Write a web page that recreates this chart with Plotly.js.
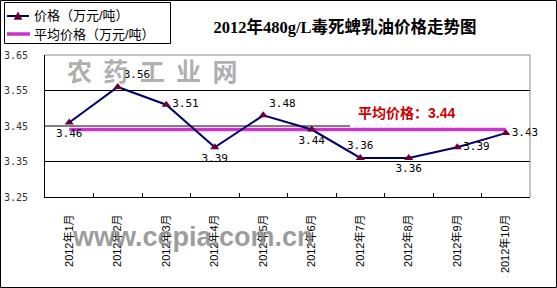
<!DOCTYPE html>
<html><head><meta charset="utf-8">
<script src="https://cdn.plot.ly/plotly-3.0.1.min.js"></script>
<style>html,body{margin:0;padding:0;background:#fff}#chart{width:557px;height:288px}</style>
</head><body><div id="chart"></div>
<script>
const months = ["2012年1月","2012年2月","2012年3月","2012年4月","2012年5月","2012年6月","2012年7月","2012年8月","2012年9月","2012年10月"];
const prices = [3.46, 3.56, 3.51, 3.39, 3.48, 3.44, 3.36, 3.36, 3.39, 3.43];
const avgPrices = [3.44, 3.44, 3.44, 3.44, 3.44, 3.44, 3.44, 3.44, 3.44, 3.44];
const labelPositions = ["bottom center","top right","middle right","bottom center","top right","bottom center","top center","bottom center","middle right","middle right"];
const seriesNames = ["价格（万元/吨）", "平均价格（万元/吨）"];
const avgLabel = "平均价格：3.44";
const titleText = "2012年480g/L毒死蜱乳油价格走势图";
const yTicks = [3.25, 3.35, 3.45, 3.55, 3.65];
const gridValues = [3.35, 3.45, 3.55];

const W = 557, H = 288, ML = 45, MR = 27, MT = 55, MB = 91;
const PW = W - ML - MR, PH = H - MT - MB;
const px = v => (v - ML) / PW;          // pixel x -> paper x
const py = v => (H - MB - v) / PH;      // pixel y -> paper y
const cjk = "Liberation Sans, Noto Sans CJK SC, sans-serif";
const mono = "DejaVu Sans Mono, monospace";
const priceColor = "#000066", markerColor = "#660033", avgColor = "#CC33CC";

const traces = [
  {x: months, y: avgPrices, type: "scatter", mode: "lines", name: seriesNames[1],
   line: {color: avgColor, width: 3.5}, hoverinfo: "skip"},
  {x: months, y: prices, type: "scatter", mode: "lines+markers+text", name: seriesNames[0],
   line: {color: priceColor, width: 2}, cliponaxis: false,
   marker: {symbol: "triangle-up", size: 8, color: markerColor},
   text: prices.map(v => v.toFixed(2)), textposition: labelPositions,
   textfont: {family: mono, size: 11, color: "#000"}}
];

// gridlines drawn as shapes; the 3.45 line stops where the average-price note begins
const gridShapes = gridValues.map(v => ({
  type: "line", xref: "paper", yref: "y", x0: 0, x1: (v === 3.45 ? px(350) : 1), y0: v, y1: v,
  line: {color: "#000", width: 1}, layer: "below"}));

// legend box drawn by hand (paper coordinates)
const legendShapes = [
  {type: "rect", xref: "paper", yref: "paper", x0: px(4.5), x1: px(170.5), y0: py(43.5), y1: py(2.5),
   line: {color: "#000", width: 1}, fillcolor: "#fff"},
  {type: "line", xref: "paper", yref: "paper", x0: px(7), x1: px(29), y0: py(16), y1: py(16),
   line: {color: priceColor, width: 2}},
  {type: "path", xref: "paper", yref: "paper",
   path: `M ${px(14)} ${py(19.5)} L ${px(22)} ${py(19.5)} L ${px(18)} ${py(12)} Z`,
   fillcolor: markerColor, line: {color: markerColor, width: 0.5}},
  {type: "line", xref: "paper", yref: "paper", x0: px(7), x1: px(30), y0: py(34), y1: py(34),
   line: {color: avgColor, width: 3.5}}
];

const layout = {
  width: W, height: H,
  margin: {l: ML, r: MR, t: MT, b: MB, pad: 0},
  paper_bgcolor: "#fff", plot_bgcolor: "#fff",
  showlegend: false,
  title: {text: titleText, x: 345 / W, xanchor: "center", xref: "container",
          y: 1 - 27 / H, yanchor: "middle", yref: "container",
          font: {family: "Liberation Serif, Noto Sans CJK SC, serif", size: 16.5, color: "#000", weight: "bold"}},
  xaxis: {type: "category", range: [-0.5, 9.5], tickangle: -90, tickson: "boundaries",
          ticks: "inside", ticklen: 4, tickcolor: "#000", showgrid: false,
          showline: true, linecolor: "#000", linewidth: 1, zeroline: false,
          tickfont: {family: cjk, size: 11, color: "#000"}, ticklabelstandoff: 12,
          fixedrange: true},
  yaxis: {range: [3.25, 3.65], tickvals: yTicks, ticktext: yTicks.map(v => v.toFixed(2)),
          showgrid: false, ticks: "",
          showline: true, linecolor: "#000", linewidth: 1, zeroline: false,
          tickfont: {family: mono, size: 10, color: "#333"}, ticklabelstandoff: 14,
          fixedrange: true},
  shapes: gridShapes.concat([
    {type: "line", xref: "paper", yref: "paper", x0: 0, x1: 1, y0: 1, y1: 1, line: {color: "#888", width: 1}},
    {type: "line", xref: "paper", yref: "paper", x0: 1, x1: 1, y0: 0, y1: 1, line: {color: "#888", width: 1}},
    {type: "rect", xref: "paper", yref: "paper",
     x0: px(0.5), x1: px(W - 0.5), y0: py(H - 0.5), y1: py(0.5),
     line: {color: "#000", width: 1}, fillcolor: "rgba(0,0,0,0)"}
  ], legendShapes),
  annotations: [
    {text: seriesNames[0], xref: "paper", yref: "paper", x: px(32), y: py(16), xanchor: "left", yanchor: "middle",
     showarrow: false, font: {family: cjk, size: 13, color: "#000"}},
    {text: seriesNames[1], xref: "paper", yref: "paper", x: px(32), y: py(34), xanchor: "left", yanchor: "middle",
     showarrow: false, font: {family: cjk, size: 13, color: "#000"}},
    {text: avgLabel, xref: "paper", yref: "y", x: px(406), y: 3.487, xanchor: "center", yanchor: "middle",
     showarrow: false, font: {family: cjk, size: 14, color: "#CC0000", weight: "bold"}},
    {text: "农  药  工  业  网", xref: "paper", yref: "paper", x: px(152), y: py(70),
     xanchor: "center", yanchor: "middle", showarrow: false,
     font: {family: "Noto Sans CJK SC, sans-serif", size: 25, color: "rgba(140,140,140,0.7)", weight: "bold"}},
    {text: "www.ccpia.com.cn", xref: "paper", yref: "paper", x: px(193), y: py(237),
     xanchor: "center", yanchor: "middle", showarrow: false,
     font: {family: "Liberation Sans, Arial, sans-serif", size: 27, color: "rgba(140,140,140,0.85)", weight: "bold"}}
  ]
};

Plotly.newPlot("chart", traces, layout, {displayModeBar: false, staticPlot: true});
</script></body></html>
